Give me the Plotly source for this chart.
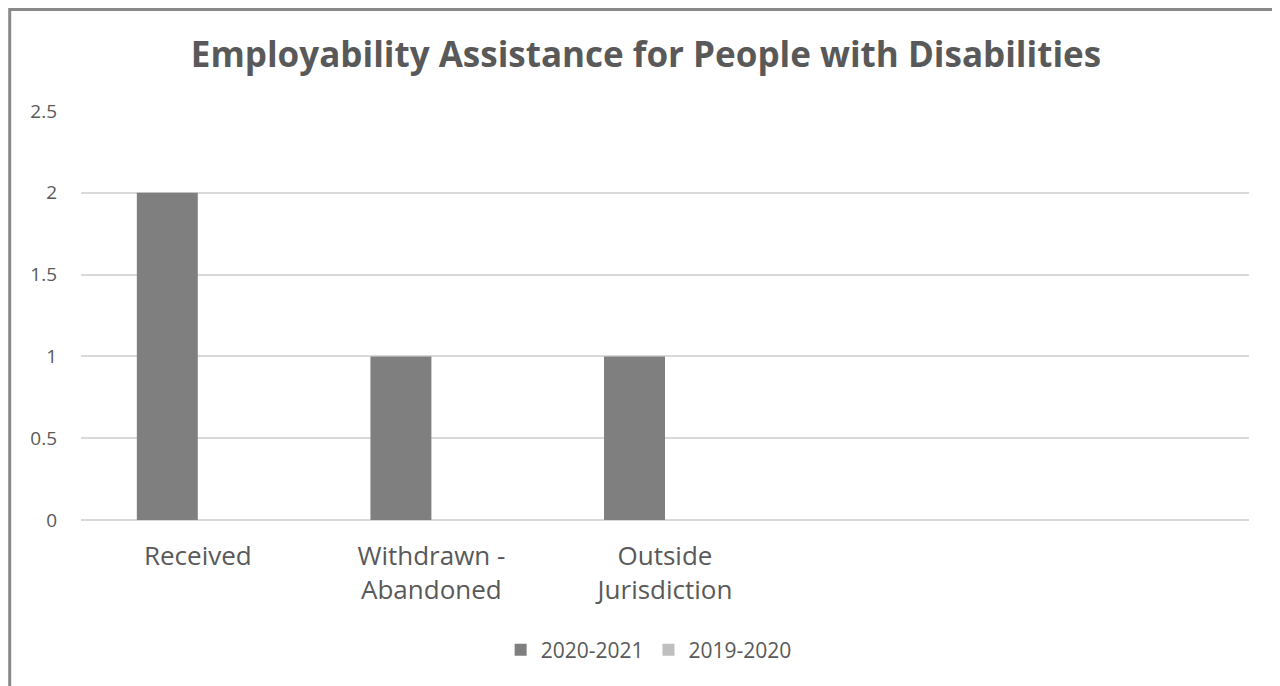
import plotly.graph_objects as go

categories = ["Received", "Withdrawn -<br>Abandoned", "Outside<br>Jurisdiction", " ", "  "]
series_2020_2021 = [2, 1, 1, None, None]
series_2019_2020 = [0, 0, 0, None, None]
y_ticks = [0, 0.5, 1, 1.5, 2, 2.5]
y_tick_labels = ["0", "0.5", "1", "1.5", "2", "2.5"]

FONT = "Open Sans"
TXT = "#595959"

# the page body has an 8px default margin; the figure is sized to fit
W, H = 1272, 678
L, T, PW, PH = 73, 103, 1168, 409

fig = go.Figure()
fig.add_trace(go.Bar(x=categories, y=series_2020_2021, name="2020-2021",
                     marker=dict(color="#7F7F7F", line=dict(width=0))))
fig.add_trace(go.Bar(x=categories, y=series_2019_2020, name="2019-2020",
                     marker=dict(color="#BFBFBF", line=dict(width=0))))

fig.update_layout(
    width=W, height=H,
    margin=dict(l=L, r=W - L - PW, t=T, b=H - T - PH, pad=0),
    paper_bgcolor="white", plot_bgcolor="white",
    barmode="group", bargap=0.478, bargroupgap=0,
    font=dict(family=FONT, color=TXT),
    title=dict(text="<b>Employability Assistance for People with Disabilities</b>",
               x=638 / W, xanchor="center", y=1 - 47 / H, yanchor="middle",
               font=dict(family=FONT, size=35, color=TXT)),
    xaxis=dict(showgrid=False, showline=False, ticks="", zeroline=False,
               ticklabelstandoff=18,
               tickfont=dict(size=26, color=TXT), fixedrange=True),
    yaxis=dict(range=[0, 2.5], tickvals=y_ticks, ticktext=y_tick_labels,
               showgrid=True, gridcolor="#D9D9D9", gridwidth=1.5,
               zeroline=True, zerolinecolor="#D9D9D9", zerolinewidth=1.5,
               showline=False, ticks="", ticklabelstandoff=23,
               tickfont=dict(size=19, color=TXT)),
    legend=dict(orientation="h", x=0.486, xanchor="center", y=-0.318, yanchor="middle",
                font=dict(size=21, color=TXT), itemwidth=30, traceorder="normal"),
    shapes=[dict(type="rect", xref="paper", yref="paper",
                 x0=(1.7 - L) / PW, x1=(1269.5 - L) / PW,
                 y0=-0.6, y1=(T + PH - 1.5) / PH,
                 line=dict(color="#898989", width=3), fillcolor="rgba(0,0,0,0)", layer="below")],
)

fig.write_html("out.html")
